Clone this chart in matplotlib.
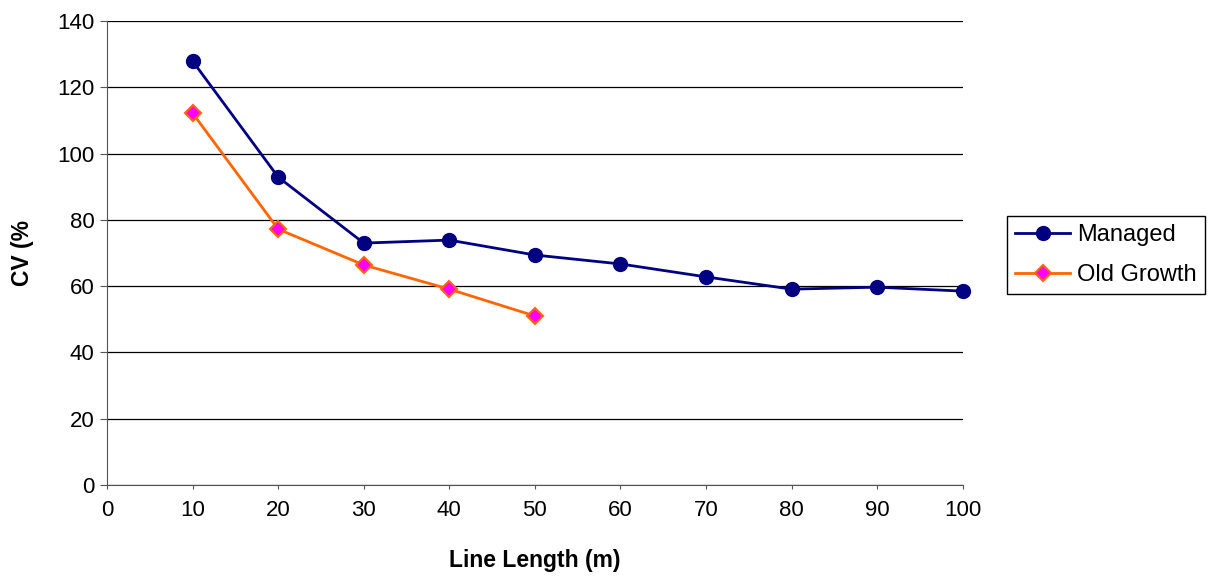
import matplotlib.pyplot as plt
import matplotlib.ticker as ticker

plt.rcParams['font.family'] = ['Liberation Sans', 'DejaVu Sans']

length = [10, 20, 30, 40, 50, 60, 70, 80, 90, 100]
managed = [127.9, 92.9, 73.0, 73.9, 69.4, 66.7, 62.8, 59.1, 59.7, 58.5]
old_length = [10, 20, 30, 40, 50]
old_growth = [112.2, 77.2, 66.4, 59.1, 51.0]

fig = plt.figure(figsize=(12.11, 5.79), dpi=100)
ax = fig.add_axes([0.0884, 0.1623, 0.7066, 0.8014])

ax.axis([0, 100, 0, 140])
ax.xaxis.set_major_locator(ticker.MultipleLocator(10))
ax.yaxis.set_major_locator(ticker.MultipleLocator(20))

# сетка
ax.grid(axis='y', color='black', linewidth=0.9)
ax.set_axisbelow(True)
for side in ['top', 'right']:
    ax.spines[side].set_visible(False)
for side in ['left', 'bottom']:
    ax.spines[side].set_color('#555555')
ax.tick_params(direction='out', color='#555555', labelsize=16)
ax.tick_params(axis='y', length=5, pad=4)
ax.tick_params(axis='x', length=3, pad=8)

ax.plot(length, managed, c='#000080', linewidth=2, marker='o', markersize=10,
        label='Managed', clip_on=False)
ax.plot(old_length, old_growth, c='#FF6600', linewidth=2, marker='D', markersize=8,
        markerfacecolor='#FF00FF', markeredgecolor='#FF6600', markeredgewidth=1.5,
        label='Old Growth', clip_on=False)

ax.set_xlabel('Line Length (m)', fontsize=16.5, fontweight='bold')
ax.set_ylabel('CV (%', fontsize=16.5, fontweight='bold')
ax.xaxis.set_label_coords(0.5, -0.138)
ax.yaxis.set_label_coords(-0.085, 0.5)

leg = fig.legend(loc='center', bbox_to_anchor=(0.9133, 0.5596), fontsize=17,
                 fancybox=False, framealpha=1, edgecolor='black',
                 handlelength=2.3, handletextpad=0.3, borderpad=0.35,
                 labelspacing=0.75, borderaxespad=0)
leg.get_frame().set_linewidth(1)

fig.savefig('out.png')
